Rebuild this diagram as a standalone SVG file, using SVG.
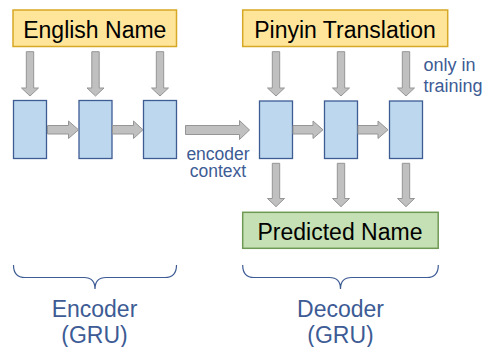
<svg xmlns="http://www.w3.org/2000/svg" width="482" height="347" viewBox="0 0 482 347">
<style>
.lbl{font-family:"Liberation Sans",Arial,sans-serif;font-size:23px;fill:#000;text-anchor:middle}
.blue{font-family:"Liberation Sans",Arial,sans-serif;fill:#3d5b94}
.yel{fill:#ffe599;stroke:#d6a825;stroke-width:1.5}
.grn{fill:#c5e0b4;stroke:#6f9a55;stroke-width:1.5}
.cell{fill:#bdd7ee;stroke:#3e5c94;stroke-width:1.3}
.arr{fill:#c0c0c0;stroke:#959595;stroke-width:1}
.brace{fill:none;stroke:#3d5b94;stroke-width:1.2}
</style>
<rect width="482" height="347" fill="#fff"/>
<g id="english-name"><rect class="yel" x="13" y="10" width="163.5" height="36.5"/><text class="lbl" x="94.8" y="37.5">English Name</text></g>
<g id="pinyin-translation"><rect class="yel" x="242.7" y="10" width="205" height="36.5"/><text class="lbl" x="345" y="37.5">Pinyin Translation</text></g>
<g id="predicted-name"><rect class="grn" x="242.7" y="212.3" width="195.5" height="36"/><text class="lbl" x="340" y="240">Predicted Name</text></g>
<g id="enc1"><rect class="cell" x="13.5" y="100.5" width="33" height="58"/></g>
<g id="enc2"><rect class="cell" x="79" y="100.5" width="33" height="58"/></g>
<g id="enc3"><rect class="cell" x="143.5" y="100.5" width="33" height="58"/></g>
<g id="dec1"><rect class="cell" x="259.5" y="101" width="33" height="57.5"/></g>
<g id="dec2"><rect class="cell" x="324.5" y="101" width="33" height="57.5"/></g>
<g id="dec3"><rect class="cell" x="389.5" y="101" width="33" height="57.5"/></g>
<g id="connectors">
<polygon class="arr" points="26.3,51.7 33.7,51.7 33.7,88 38.5,88 30,96 21.5,88 26.3,88"/>
<polygon class="arr" points="91.8,51.7 99.2,51.7 99.2,88 104,88 95.5,96 87,88 91.8,88"/>
<polygon class="arr" points="156.3,51.7 163.7,51.7 163.7,88 168.5,88 160,96 151.5,88 156.3,88"/>
<polygon class="arr" points="272.3,51.7 279.7,51.7 279.7,88 284.5,88 276,96 267.5,88 272.3,88"/>
<polygon class="arr" points="337.3,51.7 344.7,51.7 344.7,88 349.5,88 341,96 332.5,88 337.3,88"/>
<polygon class="arr" points="402.3,51.7 409.7,51.7 409.7,88 414.5,88 406,96 397.5,88 402.3,88"/>
<polygon class="arr" points="272.3,163.3 279.7,163.3 279.7,198.5 284.5,198.5 276,206.7 267.5,198.5 272.3,198.5"/>
<polygon class="arr" points="337.3,163.3 344.7,163.3 344.7,198.5 349.5,198.5 341,206.7 332.5,198.5 337.3,198.5"/>
<polygon class="arr" points="402.3,163.3 409.7,163.3 409.7,198.5 414.5,198.5 406,206.7 397.5,198.5 402.3,198.5"/>
<polygon class="arr" points="47.5,125.5 68.5,125.5 68.5,121 78.5,129.8 68.5,138.5 68.5,134 47.5,134"/>
<polygon class="arr" points="112.5,125.5 133.5,125.5 133.5,121 143,129.8 133.5,138.5 133.5,134 112.5,134"/>
<polygon class="arr" points="293,125.5 313,125.5 313,121 323,129.8 313,138.5 313,134 293,134"/>
<polygon class="arr" points="358,125.5 378,125.5 378,121 388,129.8 378,138.5 378,134 358,134"/>
<polygon class="arr" points="185.5,125.5 239.5,125.5 239.5,120.5 249.5,130 239.5,139.5 239.5,134.5 185.5,134.5"/>
</g>
<text class="blue" x="218" y="160.3" font-size="17.5" text-anchor="middle">encoder</text>
<text class="blue" x="218" y="177.3" font-size="17.5" text-anchor="middle">context</text>
<text class="blue" x="423.5" y="70.5" font-size="18">only in</text>
<text class="blue" x="423.5" y="92" font-size="18">training</text>
<g id="encoder-brace">
<path class="brace" d="M13.5,265 Q13.5,277.5 25,277.5 L84,277.5 Q95,277.5 95,289 Q95,277.5 106,277.5 L165,277.5 Q176.5,277.5 176.5,265"/>
<text class="blue" x="94.5" y="316.7" font-size="23" text-anchor="middle">Encoder</text>
<text class="blue" x="94.5" y="343" font-size="23" text-anchor="middle">(GRU)</text>
</g>
<g id="decoder-brace">
<path class="brace" d="M242.7,265 Q242.7,277.5 254,277.5 L329.5,277.5 Q340.5,277.5 340.5,289 Q340.5,277.5 351.5,277.5 L427,277.5 Q438.3,277.5 438.3,265"/>
<text class="blue" x="340.5" y="316.7" font-size="23" text-anchor="middle">Decoder</text>
<text class="blue" x="340.5" y="343" font-size="23" text-anchor="middle">(GRU)</text>
</g>
</svg>
